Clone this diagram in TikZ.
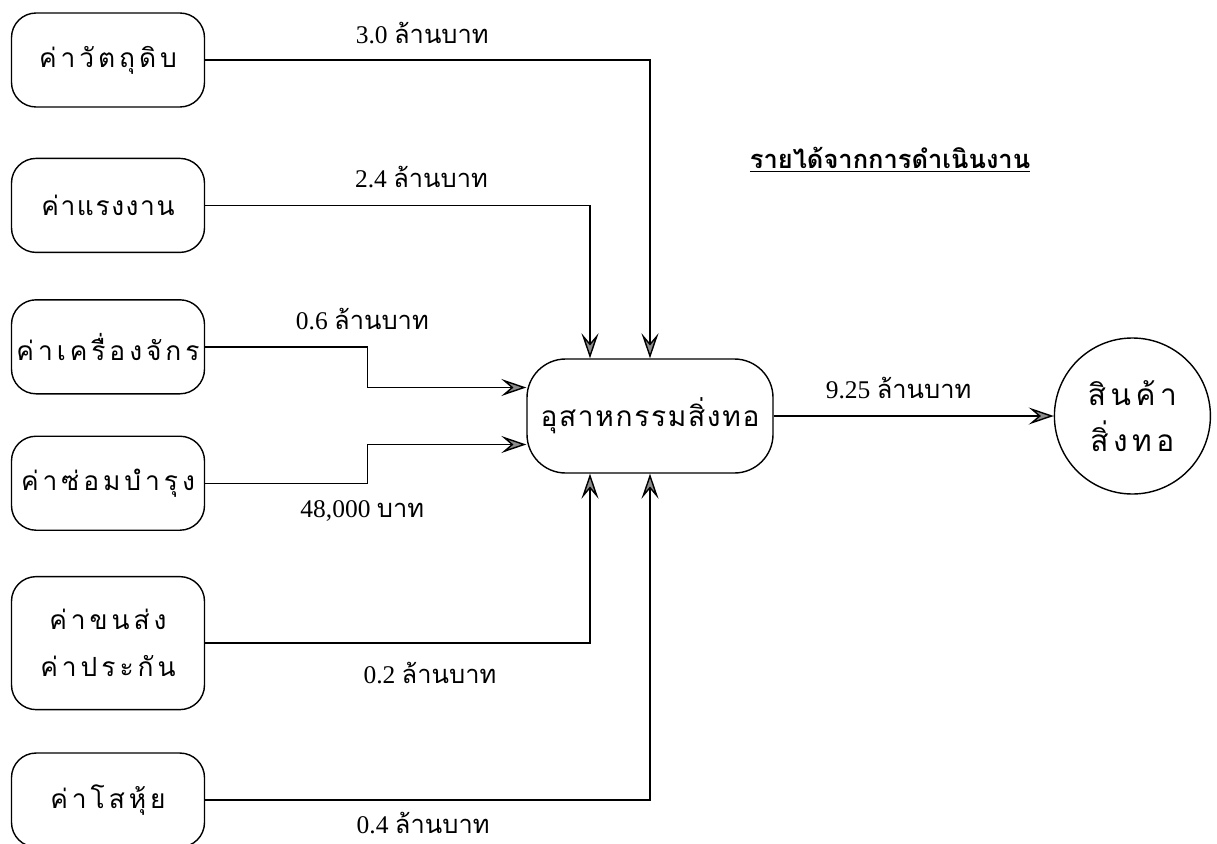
\documentclass[tikz,border=0pt]{standalone}
\usepackage{fontspec}
\setmainfont{Liberation Serif}
\newfontfamily\thaifont[Script=Thai]{Loma}
\newfontfamily\thaiwide[Script=Thai,LetterSpace=15]{Loma}
\newfontfamily\thaimid[Script=Thai,LetterSpace=6]{Loma}
\usetikzlibrary{arrows.meta,positioning}

\begin{document}
\begin{tikzpicture}[
  cost/.style={draw,line width=0.8pt,rounded corners=14pt,minimum width=3.86cm,minimum height=1.88cm,
     align=center,inner sep=1pt,font=\thaiwide\fontsize{15}{27}\selectfont},
  proc/.style={cost,minimum width=4.92cm,minimum height=2.28cm,rounded corners=22pt,
     font=\thaimid\fontsize{16}{20}\selectfont},
  goods/.style={draw,circle,line width=0.8pt,minimum size=3.12cm,align=center,
     font=\thaiwide\fontsize{17}{26}\selectfont},
  amt/.style={font=\fontsize{14.5}{16}\selectfont,inner sep=0pt},
  flow/.style={-{Stealth[length=5mm,width=3.4mm,inset=2mm,fill=black!45]},line width=0.8pt}
]
\useasboundingbox (0,0) rectangle (24.34,-16.86);
\node[cost] (raw) at (2.16,-1.2) {ค่าวัตถุดิบ};
\node[cost,below=1cm of raw,font=\thaimid\fontsize{15}{27}\selectfont] (labour) {ค่าแรงงาน};
\node[cost,below=0.92cm of labour] (mach) {ค่าเครื่องจักร};
\node[cost,below=0.82cm of mach] (repair) {ค่าซ่อมบำรุง};
\node[cost,below=0.9cm of repair,minimum height=2.66cm] (trans) {ค่าขนส่ง\\ค่าประกัน};
\node[cost,below=0.84cm of trans] (over) {ค่าโสหุ้ย};
\node[proc] (ind) at (13,-8.32) {อุสาหกรรมสิ่งทอ};
\node[goods,right=5.6cm of ind] (prod) {สินค้า\\สิ่งทอ};
\node[amt,font=\fontsize{14.5}{16}\selectfont\thaifont\bfseries] (title) at (17.8,-3.2) {\underline{รายได้จากการดำเนินงาน}};
\draw[flow] (raw.east) -| node[amt,pos=0.244,yshift=0.54cm]{3.0 {\thaifont ล้านบาท}} (ind.north);
\draw[flow] (labour.east) -| node[amt,pos=0.281,yshift=0.56cm]{2.4 {\thaifont ล้านบาท}} ([xshift=-1.2cm]ind.north);
\draw[flow] (mach.east) -- node[amt,pos=0.97,yshift=0.56cm]{0.6 {\thaifont ล้านบาท}} ++(3.24,0) |- ([yshift=0.57cm]ind.west);
\draw[flow] (repair.east) -- node[amt,pos=0.97,yshift=-0.56cm]{48,000 {\thaifont บาท}} ++(3.24,0) |- ([yshift=-0.57cm]ind.west);
\draw[flow] (trans.east) -| node[amt,pos=0.292,yshift=-0.6cm]{0.2 {\thaifont ล้านบาท}} ([xshift=-1.2cm]ind.south);
\draw[flow] (over.east) -| node[amt,pos=0.245,yshift=-0.47cm]{0.4 {\thaifont ล้านบาท}} (ind.south);
\draw[flow] (ind) -- node[amt,pos=0.446,yshift=0.56cm]{9.25 {\thaifont ล้านบาท}} (prod);
\end{tikzpicture}
\end{document}
